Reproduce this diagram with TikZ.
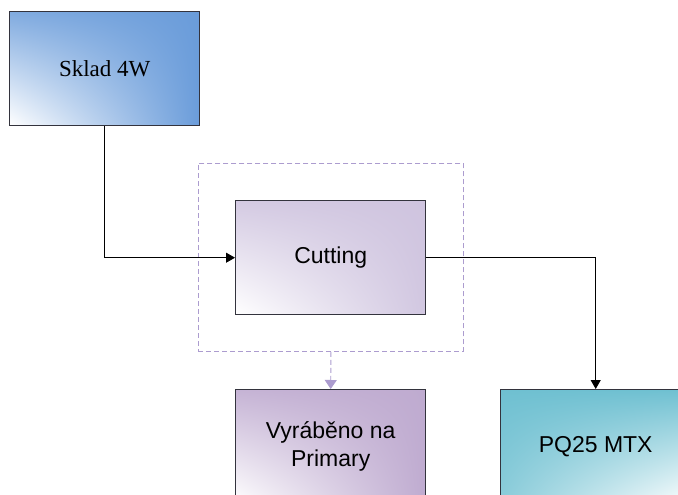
\documentclass[tikz,border=0pt]{standalone}
\usepackage{fontspec}
\setmainfont{Liberation Serif}
\newfontfamily\arialfont{Liberation Sans}
\usetikzlibrary{arrows.meta,shadings}
\definecolor{skladblue}{HTML}{6A9CDA}
\definecolor{cutlav}{HTML}{CFC4DF}
\definecolor{vyrlav}{HTML}{BFABD0}
\definecolor{pqteal}{HTML}{6FC0D1}
\definecolor{boxborder}{HTML}{33333D}
\definecolor{dashlav}{HTML}{AC9CCF}
\tikzset{
  procbox/.style={draw=boxborder, line width=1.4pt, minimum width=190pt, minimum height=114pt, inner sep=0pt, anchor=north west, align=center},
  conn/.style={draw=black, line width=0.9pt, -{Triangle[length=9pt,width=10pt]}},
  dashconn/.style={draw=dashlav, line width=0.9pt, dash pattern=on 5pt off 3pt, -{Triangle[length=9pt,width=12pt,fill=dashlav]}},
  groupbox/.style={draw=dashlav, line width=0.9pt, dash pattern=on 5pt off 3pt, minimum width=265pt, minimum height=188pt, inner sep=0pt, anchor=north west},
  sanslbl/.style={font=\arialfont\fontsize{23pt}{28pt}\selectfont},
  seriflbl/.style={font=\fontsize{23pt}{28pt}\selectfont}
}
\begin{document}
\begin{tikzpicture}[x=1pt,y=-1pt]
\useasboundingbox (0,0) rectangle (678,495);
\fill[white] (0,0) rectangle (678,495);
\clip (0,0) rectangle (678,495);
\node[groupbox] (grp) at (198,163) {};
\node[procbox, seriflbl, lower left=white, upper left=skladblue!85!white, upper right=skladblue, lower right=skladblue] (sklad) at (9,11) {Sklad 4W};
\node[procbox, sanslbl, lower left=white, upper left=cutlav!90!white, upper right=cutlav, lower right=cutlav!95!white] (cut) at (235,200) {Cutting};
\node[procbox, sanslbl, lower left=white, upper left=vyrlav!90!white, upper right=vyrlav, lower right=vyrlav] (vyr) at (235,389) {Vyráběno na\\Primary};
\node[procbox, sanslbl, lower left=pqteal!80!white, upper left=pqteal, upper right=pqteal, lower right=white] (pq) at (500,389) {PQ25 MTX};
\draw[conn] (sklad.south) |- (cut.west);
\draw[conn] (cut.east) -| (pq.north);
\draw[dashconn] (grp.south) -- (vyr.north);
\end{tikzpicture}
\end{document}
